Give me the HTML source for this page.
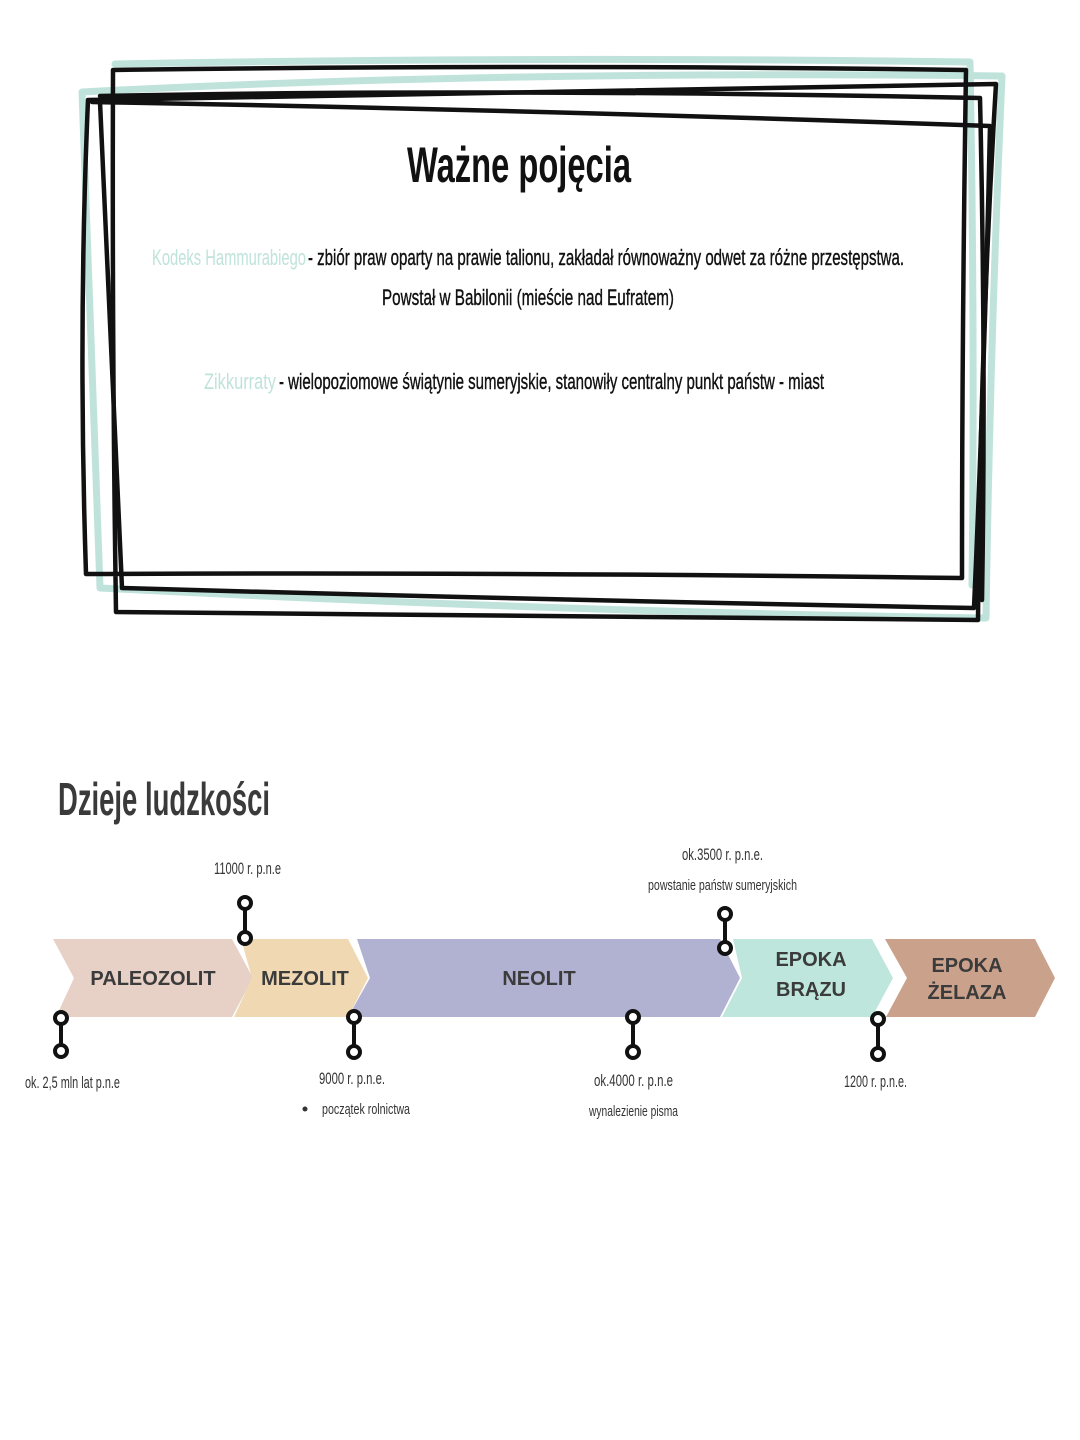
<!DOCTYPE html>
<html><head><meta charset="utf-8"><style>
html,body{margin:0;padding:0;background:#fff;}
svg{display:block}
text{font-family:"Liberation Sans Narrow","Liberation Sans",sans-serif;}
</style></head><body>
<svg width="1080" height="1440" viewBox="0 0 1080 1440" xmlns="http://www.w3.org/2000/svg">
<rect width="1080" height="1440" fill="#fff"/>
<g fill="none" stroke="#bfe3da" stroke-width="7" stroke-linejoin="round" stroke-linecap="round">
<path d="M82,92 Q500,70 1002,76 Q990,350 986,618 Q560,612 100,588 Q92,350 82,92 Z"/>
<path d="M115,64 Q540,56 970,62 Q975,330 972,585"/>
</g>
<g fill="none" stroke="#111" stroke-width="4.5" stroke-linejoin="round" stroke-linecap="round">
<path d="M113,70 Q540,64 966,70 Q962,330 962,578 Q520,572 86,574 Q78,330 88,100 Q540,92 996,84 Q980,350 978,620 Q540,616 116,612 Q112,350 113,70 Z"/>
<path d="M92,102 Q540,110 990,126 Q985,360 974,608 Q540,600 122,588 Q110,340 100,102"/>
<path d="M100,96 Q500,88 980,98 Q986,360 982,600"/>
</g>
<text x="519" y="182" text-anchor="middle" font-size="50" font-weight="bold" textLength="224" lengthAdjust="spacingAndGlyphs" fill="#111">Ważne pojęcia</text>
<text x="152" y="265" font-size="22" textLength="154" lengthAdjust="spacingAndGlyphs" fill="#bfe3da">Kodeks Hammurabiego</text>
<text x="308" y="265" font-size="22" textLength="596" lengthAdjust="spacingAndGlyphs" fill="#111" stroke="#111" stroke-width="0.4">- zbiór praw oparty na prawie talionu, zakładał równoważny odwet za różne przestępstwa.</text>
<text x="382" y="305" font-size="22" textLength="292" lengthAdjust="spacingAndGlyphs" fill="#111" stroke="#111" stroke-width="0.4">Powstał w Babilonii (mieście nad Eufratem)</text>
<text x="204" y="389" font-size="22" textLength="72" lengthAdjust="spacingAndGlyphs" fill="#bfe3da">Zikkurraty</text>
<text x="279" y="389" font-size="22" textLength="545" lengthAdjust="spacingAndGlyphs" fill="#111" stroke="#111" stroke-width="0.4">- wielopoziomowe świątynie sumeryjskie, stanowiły centralny punkt państw - miast</text>
<text x="58" y="815" font-size="46" font-weight="bold" textLength="212" lengthAdjust="spacingAndGlyphs" fill="#3a3a3a">Dzieje ludzkości</text>
<polygon points="53,939 232,939 253,978 232,1017 56,1017 74,978" fill="#e7d0c6"/>
<polygon points="241,939 348,939 368,978 348,1017 234,1017 252,978" fill="#f0d9b2"/>
<polygon points="357,939 720,939 740,978 720,1017 348,1017 370,978" fill="#b1b1d1"/>
<polygon points="733,939 872,939 893,978 872,1017 722,1017 742,978" fill="#bee6dc"/>
<polygon points="885,939 1035,939 1055,978 1035,1017 886,1017 907,978" fill="#caa18b"/>
<g font-weight="bold" fill="#3b3b3b" text-anchor="middle" font-size="20">
<text x="153" y="985" style="font-family:'Liberation Sans',sans-serif">PALEOZOLIT</text>
<text x="305" y="985" style="font-family:'Liberation Sans',sans-serif">MEZOLIT</text>
<text x="539" y="985" style="font-family:'Liberation Sans',sans-serif">NEOLIT</text>
<text x="811" y="966" style="font-family:'Liberation Sans',sans-serif">EPOKA</text>
<text x="811" y="996" style="font-family:'Liberation Sans',sans-serif">BRĄZU</text>
<text x="967" y="972" style="font-family:'Liberation Sans',sans-serif">EPOKA</text>
<text x="967" y="999" style="font-family:'Liberation Sans',sans-serif">ŻELAZA</text>
</g>
<g fill="#fff" stroke="#111" stroke-width="4">
<line x1="61" y1="1018" x2="61" y2="1051"/><circle cx="61" cy="1018" r="6"/><circle cx="61" cy="1051" r="6"/>
<line x1="245" y1="903" x2="245" y2="938"/><circle cx="245" cy="903" r="6"/><circle cx="245" cy="938" r="6"/>
<line x1="354" y1="1017" x2="354" y2="1052"/><circle cx="354" cy="1017" r="6"/><circle cx="354" cy="1052" r="6"/>
<line x1="633" y1="1017" x2="633" y2="1052"/><circle cx="633" cy="1017" r="6"/><circle cx="633" cy="1052" r="6"/>
<line x1="725" y1="914" x2="725" y2="948"/><circle cx="725" cy="914" r="6"/><circle cx="725" cy="948" r="6"/>
<line x1="878" y1="1019" x2="878" y2="1054"/><circle cx="878" cy="1019" r="6"/><circle cx="878" cy="1054" r="6"/>
</g>
<g fill="#333" font-size="17">
<text x="214" y="874" textLength="67" lengthAdjust="spacingAndGlyphs">11000 r. p.n.e</text>
<text x="25" y="1088" textLength="95" lengthAdjust="spacingAndGlyphs">ok. 2,5 mln lat p.n.e</text>
<text x="319" y="1084" textLength="66" lengthAdjust="spacingAndGlyphs">9000 r. p.n.e.</text>
<circle cx="305" cy="1109" r="2.5"/>
<text x="322" y="1114" font-size="15" textLength="88" lengthAdjust="spacingAndGlyphs">początek rolnictwa</text>
<text x="594" y="1086" textLength="79" lengthAdjust="spacingAndGlyphs">ok.4000 r. p.n.e</text>
<text x="589" y="1116" font-size="15" textLength="89" lengthAdjust="spacingAndGlyphs">wynalezienie pisma</text>
<text x="682" y="860" textLength="81" lengthAdjust="spacingAndGlyphs">ok.3500 r. p.n.e.</text>
<text x="648" y="890" font-size="15" textLength="149" lengthAdjust="spacingAndGlyphs">powstanie państw sumeryjskich</text>
<text x="844" y="1087" textLength="63" lengthAdjust="spacingAndGlyphs">1200 r. p.n.e.</text>
</g>
</svg>
</body></html>
